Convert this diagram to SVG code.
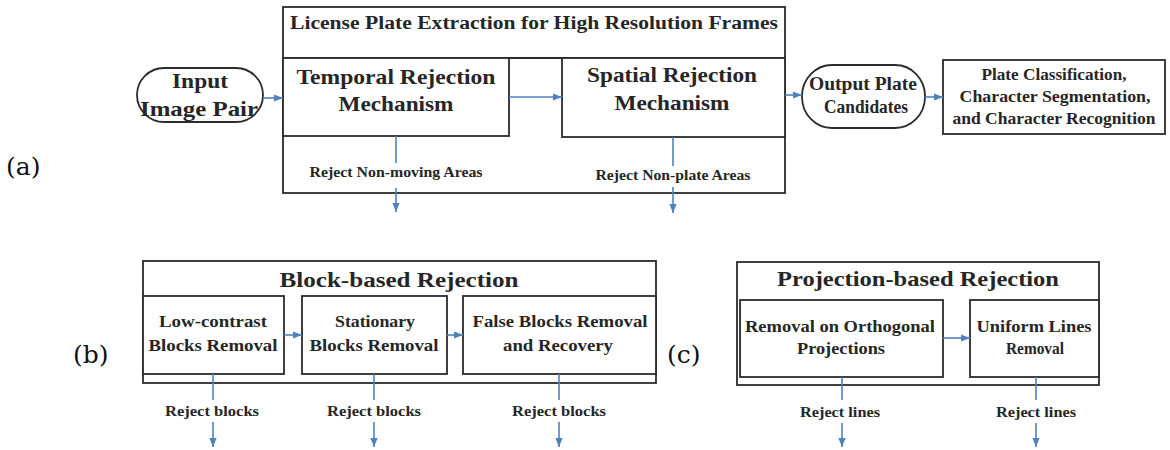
<svg xmlns="http://www.w3.org/2000/svg" width="1170" height="450" viewBox="0 0 1170 450">
<defs>
<marker id="ah" viewBox="0 0 10 10" refX="10" refY="5" markerWidth="9" markerHeight="9" orient="auto" markerUnits="userSpaceOnUse"><path d="M0,1 L10,5 L0,9 z" fill="#4f81bd"/></marker>
<style>
.box{fill:#fff;stroke:#2b2b2b;stroke-width:1.8}
.t{font-family:"Liberation Serif","Times New Roman",serif;font-weight:bold;fill:#262626;text-anchor:middle}
.big{font-size:22px}
.mid{font-size:18px}
.in{font-size:17px}
.sm{font-size:14.5px}
.lab{font-family:"DejaVu Serif","Liberation Serif",serif;font-size:25px;fill:#111}
.c{fill:none;stroke:#4f81bd;stroke-width:1.6}
.ca{fill:none;stroke:#4f81bd;stroke-width:1.6;marker-end:url(#ah)}
</style>
</defs>
<rect width="1170" height="450" fill="#fff"/>

<!-- (a) -->
<g id="frame-a">
<rect class="box" x="283" y="7" width="502" height="186"/>
<line x1="283" y1="58" x2="785" y2="58" stroke="#2b2b2b" stroke-width="1.8"/>
<text class="t mid" x="534" y="29" textLength="488" lengthAdjust="spacingAndGlyphs">License Plate Extraction for High Resolution Frames</text>
</g>
<g id="input">
<rect class="box" x="137" y="68" width="126" height="54" rx="27" ry="27"/>
<text class="t big" x="200" y="88" textLength="56" lengthAdjust="spacingAndGlyphs">Input</text>
<text class="t big" x="199" y="116" textLength="118" lengthAdjust="spacingAndGlyphs">Image Pair</text>
</g>
<g id="temporal">
<rect class="box" x="283" y="58" width="226" height="78"/>
<text class="t big" x="396" y="84" textLength="199" lengthAdjust="spacingAndGlyphs">Temporal Rejection</text>
<text class="t big" x="396" y="111" textLength="115" lengthAdjust="spacingAndGlyphs">Mechanism</text>
</g>
<g id="spatial">
<rect class="box" x="562" y="58" width="223" height="79"/>
<text class="t big" x="672" y="82" textLength="170" lengthAdjust="spacingAndGlyphs">Spatial Rejection</text>
<text class="t big" x="672" y="110" textLength="115" lengthAdjust="spacingAndGlyphs">Mechanism</text>
</g>
<g id="output">
<rect class="box" x="802" y="65" width="123" height="63" rx="30" ry="31"/>
<text class="t mid" x="863" y="90" textLength="108" lengthAdjust="spacingAndGlyphs">Output Plate</text>
<text class="t mid" x="866" y="113" textLength="84" lengthAdjust="spacingAndGlyphs">Candidates</text>
</g>
<g id="plate">
<rect class="box" x="943" y="60" width="222" height="74"/>
<text class="t" font-size="16" x="1054" y="80" textLength="145" lengthAdjust="spacingAndGlyphs">Plate Classification,</text>
<text class="t" font-size="16" x="1055" y="102" textLength="191" lengthAdjust="spacingAndGlyphs">Character Segmentation,</text>
<text class="t" font-size="16" x="1054" y="124" textLength="203" lengthAdjust="spacingAndGlyphs">and Character Recognition</text>
</g>
<text class="lab" x="6" y="175">(a)</text>

<!-- (b) -->
<g id="frame-b">
<rect class="box" x="143" y="261" width="513" height="122"/>
<text class="t big" x="399" y="287" textLength="239" lengthAdjust="spacingAndGlyphs">Block-based Rejection</text>
</g>
<g id="lowcontrast">
<rect class="box" x="143" y="296" width="141" height="78"/>
<text class="t in" x="213" y="327" textLength="108" lengthAdjust="spacingAndGlyphs">Low-contrast</text>
<text class="t in" x="213" y="351" textLength="129" lengthAdjust="spacingAndGlyphs">Blocks Removal</text>
</g>
<g id="stationary">
<rect class="box" x="302" y="296" width="145" height="78"/>
<text class="t in" x="375" y="327" textLength="80" lengthAdjust="spacingAndGlyphs">Stationary</text>
<text class="t in" x="374" y="351" textLength="129" lengthAdjust="spacingAndGlyphs">Blocks Removal</text>
</g>
<g id="falseblocks">
<rect class="box" x="463" y="296" width="193" height="78"/>
<text class="t in" x="560" y="327" textLength="175" lengthAdjust="spacingAndGlyphs">False Blocks Removal</text>
<text class="t in" x="558" y="351" textLength="110" lengthAdjust="spacingAndGlyphs">and Recovery</text>
</g>
<text class="lab" x="73" y="363">(b)</text>

<!-- (c) -->
<g id="frame-c">
<rect class="box" x="737" y="262" width="362" height="123"/>
<text class="t big" x="918" y="286" textLength="282" lengthAdjust="spacingAndGlyphs">Projection-based Rejection</text>
</g>
<g id="orthogonal">
<rect class="box" x="740" y="300" width="203" height="77"/>
<text class="t in" x="840" y="332" textLength="190" lengthAdjust="spacingAndGlyphs">Removal on Orthogonal</text>
<text class="t in" x="841" y="354" textLength="88" lengthAdjust="spacingAndGlyphs">Projections</text>
</g>
<g id="uniform">
<rect class="box" x="970" y="300" width="129" height="77"/>
<text class="t in" x="1034" y="332" textLength="115" lengthAdjust="spacingAndGlyphs">Uniform Lines</text>
<text class="t in" x="1035" y="354" textLength="58" lengthAdjust="spacingAndGlyphs">Removal</text>
</g>
<text class="lab" x="667" y="363">(c)</text>

<!-- reject labels -->
<g id="reject-labels">
<text class="t sm" x="396" y="177" textLength="173" lengthAdjust="spacingAndGlyphs">Reject Non-moving Areas</text>
<text class="t sm" x="673" y="180" textLength="155" lengthAdjust="spacingAndGlyphs">Reject Non-plate Areas</text>
<text class="t sm" x="212" y="416" textLength="94" lengthAdjust="spacingAndGlyphs">Reject blocks</text>
<text class="t sm" x="374" y="416" textLength="94" lengthAdjust="spacingAndGlyphs">Reject blocks</text>
<text class="t sm" x="559" y="416" textLength="94" lengthAdjust="spacingAndGlyphs">Reject blocks</text>
<text class="t sm" x="840" y="417" textLength="80" lengthAdjust="spacingAndGlyphs">Reject lines</text>
<text class="t sm" x="1036" y="417" textLength="80" lengthAdjust="spacingAndGlyphs">Reject lines</text>
</g>

<g id="connectors">
<path class="ca" d="M263,98 L283,98"/>
<path class="ca" d="M509,97 L562,97"/>
<path class="ca" d="M785,95 L802,95"/>
<path class="ca" d="M925,97 L943,97"/>
<path class="c" d="M396,136 L396,163"/>
<path class="ca" d="M396,188 L396,212"/>
<path class="c" d="M673,137 L673,166"/>
<path class="ca" d="M673,187 L673,213"/>
<path class="ca" d="M284,335 L302,335"/>
<path class="ca" d="M447,335 L463,335"/>
<path class="c" d="M213,374 L213,400"/>
<path class="ca" d="M213,422 L213,447"/>
<path class="c" d="M374,374 L374,400"/>
<path class="ca" d="M374,422 L374,447"/>
<path class="c" d="M559,374 L559,400"/>
<path class="ca" d="M559,422 L559,447"/>
<path class="ca" d="M943,338 L970,338"/>
<path class="c" d="M842,377 L842,400"/>
<path class="ca" d="M842,423 L842,447"/>
<path class="c" d="M1036,377 L1036,400"/>
<path class="ca" d="M1036,423 L1036,447"/>
</g>
</svg>
